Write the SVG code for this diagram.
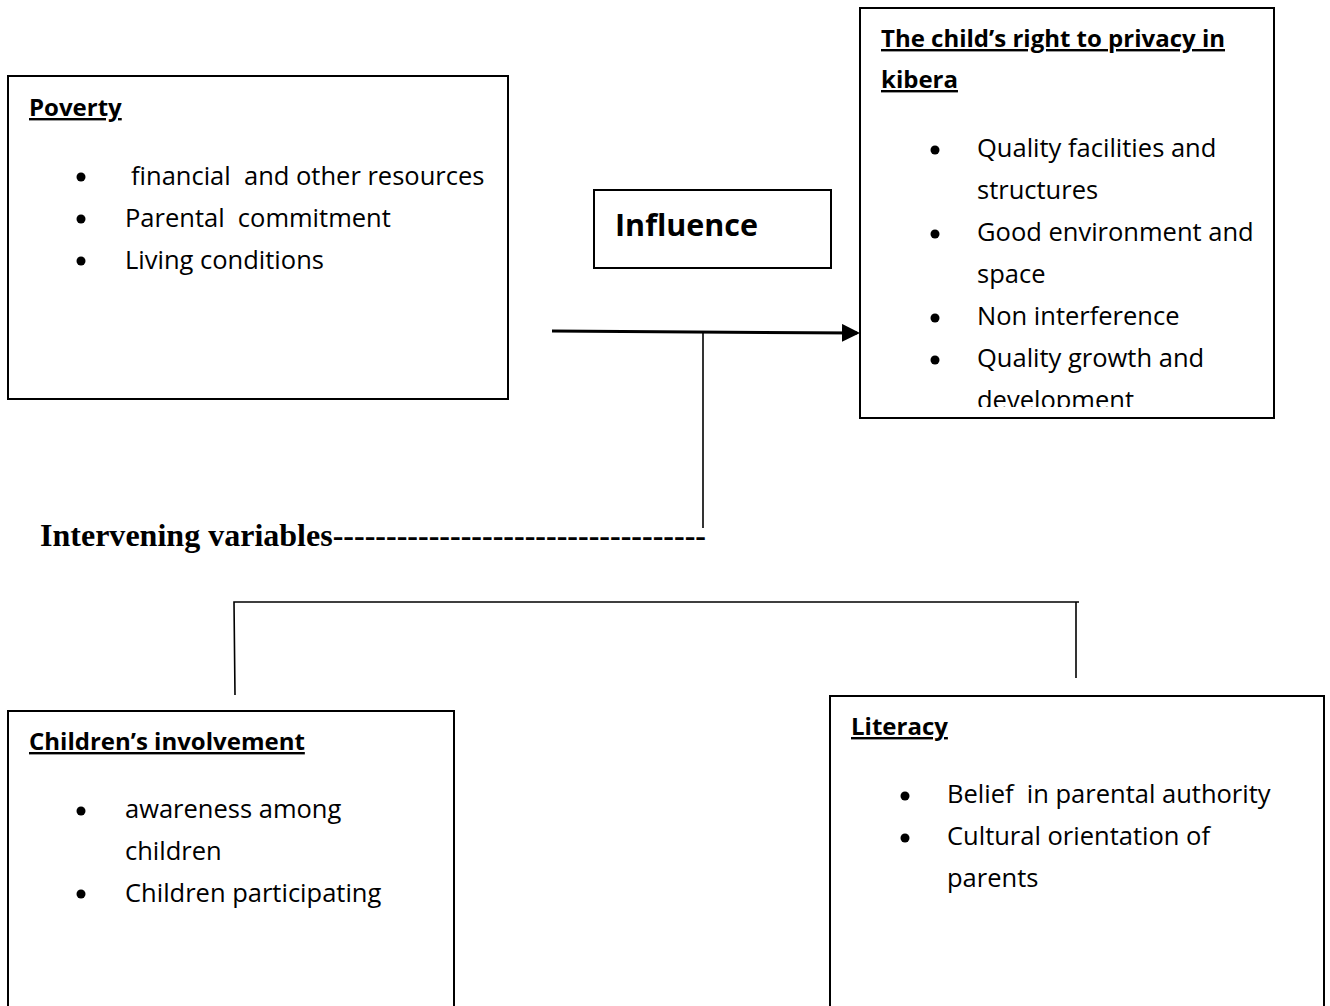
<svg xmlns="http://www.w3.org/2000/svg" width="1330" height="1006" viewBox="0 0 1330 1006">
<style>
.box{fill:#fff;stroke:#000;stroke-width:2}
.t{font-family:"Open Sans","Noto Sans","Liberation Sans",sans-serif;font-size:25.5px;fill:#000;font-variant-ligatures:none;white-space:pre}
.h{font-family:"Open Sans","Noto Sans","Liberation Sans",sans-serif;font-size:24px;font-weight:bold;fill:#000;text-decoration:underline;font-variant-ligatures:none}
.ln{stroke:#000;stroke-width:1.6;fill:none}
</style>
<defs>
<marker id="ah" markerWidth="6" markerHeight="6" refX="5" refY="3" orient="auto" markerUnits="strokeWidth"><path d="M0,0 L6,3 L0,6 z" fill="#000"/></marker>
<clipPath id="clipR"><rect x="861" y="9" width="412" height="398"/></clipPath>
</defs>
<g id="poverty">
<rect class="box" x="8" y="76" width="500" height="323"/>
<text class="h" x="29" y="116">Poverty</text>
<circle cx="81" cy="177" r="4.5"/><circle cx="81" cy="219" r="4.5"/><circle cx="81" cy="261" r="4.5"/>
<text class="t" x="131" y="185" xml:space="preserve">financial  and other resources</text>
<text class="t" x="125" y="227" xml:space="preserve">Parental  commitment</text>
<text class="t" x="125" y="269">Living conditions</text>
</g>
<g id="influence">
<rect class="box" x="594" y="190" width="237" height="78"/>
<text x="615" y="236" style="font-family:'Open Sans','Noto Sans','Liberation Sans',sans-serif;font-size:30.5px;font-weight:bold">Influence</text>
</g>
<g id="privacy">
<rect class="box" x="860" y="8" width="414" height="410"/>
<text class="h" x="881" y="47">The child’s right to privacy in</text>
<text class="h" x="881" y="88">kibera</text>
<g clip-path="url(#clipR)">
<circle cx="935" cy="150" r="4.5"/><circle cx="935" cy="234" r="4.5"/><circle cx="935" cy="318" r="4.5"/><circle cx="935" cy="360" r="4.5"/>
<text class="t" x="977" y="157">Quality facilities and</text>
<text class="t" x="977" y="199">structures</text>
<text class="t" x="977" y="241">Good environment and</text>
<text class="t" x="977" y="283">space</text>
<text class="t" x="977" y="325">Non interference</text>
<text class="t" x="977" y="367">Quality growth and</text>
<text class="t" x="977" y="409">development</text>
</g>
</g>
<g id="intervening">
<text x="40" y="546" textLength="666" lengthAdjust="spacingAndGlyphs" style="font-family:'Liberation Serif',serif;font-size:31px;font-weight:bold">Intervening variables-----------------------------------</text>
</g>
<g id="children">
<rect class="box" x="8" y="711" width="446" height="310"/>
<text class="h" x="29" y="750">Children’s involvement</text>
<circle cx="81" cy="811" r="4.5"/><circle cx="81" cy="894" r="4.5"/>
<text class="t" x="125" y="818">awareness among</text>
<text class="t" x="125" y="860">children</text>
<text class="t" x="125" y="902">Children participating</text>
</g>
<g id="literacy">
<rect class="box" x="830" y="696" width="494" height="325"/>
<text class="h" x="851" y="735">Literacy</text>
<circle cx="905" cy="796" r="4.5"/><circle cx="905" cy="838" r="4.5"/>
<text class="t" x="947" y="803" xml:space="preserve">Belief  in parental authority</text>
<text class="t" x="947" y="845">Cultural orientation of</text>
<text class="t" x="947" y="887">parents</text>
</g>
<g id="connectors">
<line x1="552" y1="331" x2="857" y2="333" stroke="#000" stroke-width="3" marker-end="url(#ah)"/>
<line class="ln" x1="703" y1="333" x2="703" y2="528"/>
<polyline class="ln" points="235,695 234,602 1079,602"/>
<line class="ln" x1="1076" y1="602" x2="1076" y2="678"/>
</g>
</svg>
